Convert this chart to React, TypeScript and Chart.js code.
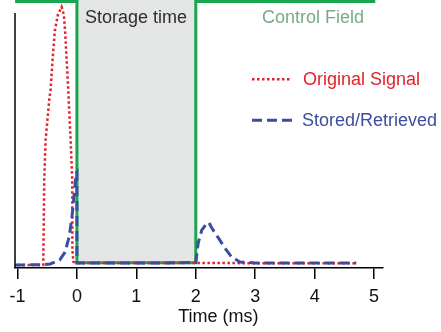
import React, { useEffect, useRef } from 'react';
import { Chart, registerables } from 'chart.js';

Chart.register(...registerables);

// ---- data (time in ms, relative amplitude) ----
const xTicks = [-1, 0, 1, 2, 3, 4, 5];

const signalT = [-1.0, -0.567, -0.55, -0.527, -0.466, -0.443, -0.41, -0.37, -0.32, -0.258, -0.22, -0.2, -0.173, -0.146, -0.106, -0.079, -0.076, -0.06, 0, 1, 2, 3, 4, 4.7];
const signalV = [0, 0, 0.33, 0.485, 0.64, 0.68, 0.795, 0.91, 0.97, 1.0, 0.97, 0.91, 0.795, 0.68, 0.485, 0.33, 0.06, 0.012, 0.008, 0.008, 0.008, 0.007, 0.007, 0.007];

const storedT = [-1.04, -0.6, -0.45, -0.29, -0.2, -0.13, -0.09, -0.06, -0.04, -0.01, 0, 0, 0.5, 1, 1.5, 2, 2.04, 2.1, 2.18, 2.22, 2.27, 2.38, 2.49, 2.6, 2.74, 3, 4, 4.7];
const storedV = [0, 0.001, 0.004, 0.019, 0.05, 0.11, 0.174, 0.24, 0.29, 0.357, 0.36, 0.008, 0.008, 0.008, 0.008, 0.01, 0.085, 0.135, 0.16, 0.165, 0.143, 0.105, 0.066, 0.032, 0.012, 0.008, 0.008, 0.008];

const controlT = [-1.04, 0, 0, 2, 2, 5.02];
const controlV = [1.021, 1.021, 0.009, 0.009, 1.021, 1.021];

const storageT = [0, 2];
const storageV = [1.03, 1.03];
const storageBase = 0.009;

const FONT = '"Liberation Sans", Arial, Helvetica, sans-serif';
const RED = '#e3222b';
const BLUE = '#3b4da0';
const GREEN = '#1aa64f';

const pts = (t: number[], v: number[]) => t.map((x, i) => ({ x, y: v[i] }));

const textPlugin = {
  id: 'annotText',
  afterDraw(chart: any) {
    const ctx = chart.ctx as CanvasRenderingContext2D;
    const xs = chart.scales.x;
    const ca = chart.chartArea;
    ctx.save();
    // left axis line
    ctx.strokeStyle = '#000';
    ctx.lineWidth = 1.5;
    ctx.beginPath();
    ctx.moveTo(ca.left, 13);
    ctx.lineTo(ca.left, ca.bottom);
    ctx.stroke();

    ctx.font = `18px ${FONT}`;
    ctx.textBaseline = 'alphabetic';
    ctx.textAlign = 'left';
    ctx.fillStyle = '#2e2e2e';
    ctx.fillText('Storage time', 85, 22.5);
    ctx.fillStyle = '#7aa98a';
    ctx.fillText('Control Field', 262, 23);
    ctx.fillStyle = RED;
    ctx.fillText('Original Signal', 303, 85);
    ctx.fillStyle = BLUE;
    ctx.fillText('Stored/Retrieved', 302, 125.5);

    // legend samples
    ctx.lineWidth = 2.5;
    ctx.strokeStyle = RED;
    ctx.setLineDash([2.5, 2.5]);
    ctx.beginPath();
    ctx.moveTo(252, 79.3);
    ctx.lineTo(290, 79.3);
    ctx.stroke();
    ctx.lineWidth = 3;
    ctx.strokeStyle = BLUE;
    ctx.setLineDash([10, 5]);
    ctx.beginPath();
    ctx.moveTo(252, 120.3);
    ctx.lineTo(292, 120.3);
    ctx.stroke();
    ctx.setLineDash([]);

    // axis title
    ctx.fillStyle = '#111';
    ctx.textAlign = 'center';
    ctx.fillText('Time (ms)', xs.getPixelForValue(2.38), 322);
    ctx.restore();
  },
};

export default function App() {
  const ref = useRef<HTMLCanvasElement | null>(null);
  useEffect(() => {
    if (!ref.current) return;
    const chart = new Chart(ref.current, {
      type: 'line',
      data: {
        datasets: [
          {
            data: pts(storageT, storageV),
            fill: { value: storageBase },
            backgroundColor: '#e4e5e5',
            borderWidth: 0,
            pointRadius: 0,
            order: 10,
          },
          {
            data: pts(controlT, controlV),
            borderColor: GREEN,
            borderWidth: 3,
            pointRadius: 0,
            fill: false,
            order: 3,
            clip: false,
          } as any,
          {
            data: pts(signalT, signalV),
            borderColor: RED,
            borderWidth: 2.5,
            borderDash: [2.5, 2.5],
            pointRadius: 0,
            fill: false,
            order: 2,
          },
          {
            data: pts(storedT, storedV),
            borderColor: BLUE,
            borderWidth: 3,
            borderDash: [10, 5],
            pointRadius: 0,
            fill: false,
            order: 1,
            clip: false,
          } as any,
        ],
      },
      options: {
        animation: false,
        responsive: true,
        maintainAspectRatio: false,
        devicePixelRatio: 1,
        layout: { padding: { left: 15, right: 58, top: 0, bottom: 0 } },
        plugins: { legend: { display: false }, tooltip: { enabled: false } },
        elements: { line: { tension: 0 } },
        scales: {
          x: {
            type: 'linear',
            min: -1.042,
            max: 5.15,
            afterBuildTicks: (s: any) => {
              s.ticks = xTicks.map((v) => ({ value: v }));
            },
            afterFit: (s: any) => {
              s.height = 64;
            },
            border: { display: true, color: '#000', width: 1.5 },
            grid: { drawOnChartArea: false, drawTicks: true, tickLength: 11, color: '#000', lineWidth: 1.5 },
            ticks: {
              padding: 7,
              color: '#111',
              font: { size: 18, family: FONT },
              maxRotation: 0,
              autoSkip: false,
              callback: (v: any) => String(v),
            },
          },
          y: { display: false, min: -0.01163, max: 1.0271 },
        },
      },
      plugins: [textPlugin],
    } as any);
    return () => chart.destroy();
  }, []);
  return (
    <div style={{ position: 'fixed', left: 0, top: 0, width: '441px', height: '332px', background: '#fff' }}>
      <canvas ref={ref} />
    </div>
  );
}
